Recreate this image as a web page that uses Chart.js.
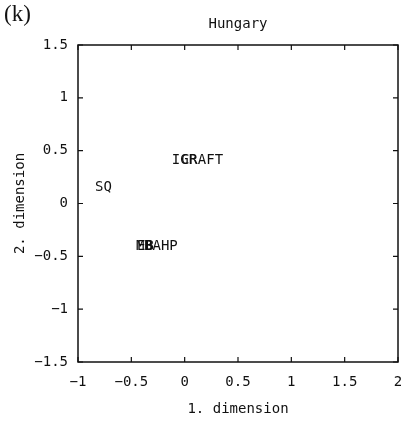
<!DOCTYPE html>
<html>
<head>
<meta charset="utf-8">
<script src="https://cdn.jsdelivr.net/npm/chart.js@4/dist/chart.umd.min.js"></script>
<style>
  html, body { margin: 0; padding: 0; background: #fff; }
  canvas { display: block; }
</style>
</head>
<body>
<canvas id="c" width="405" height="422"></canvas>
<script>
// ---- data ----
const labels = ["IGR", "CRAFT", "SQ", "MB", "EB", "BAHP"];
const xValues = [-0.12, -0.035, -0.84, -0.456, -0.447, -0.381];
const yValues = [0.41, 0.41, 0.156, -0.41, -0.41, -0.41];
const xTicks = [-1, -0.5, 0, 0.5, 1, 1.5, 2];
const yTicks = [-1.5, -1, -0.5, 0, 0.5, 1, 1.5];
const chartTitle = "Hungary";
const panelLabel = "(k)";
const xTitle = "1. dimension";
const yTitle = "2. dimension";

const MONO = "'DejaVu Sans Mono', monospace";
const FS = 14;

const points = xValues.map((x, i) => ({ x: x, y: yValues[i], label: labels[i] }));

const framePlugin = {
  id: 'frame',
  afterDatasetsDraw(chart) {
    const { ctx, chartArea: a, scales } = chart;
    ctx.save();
    ctx.strokeStyle = '#111';
    ctx.lineWidth = 1.5;
    ctx.strokeRect(a.left, a.top, a.right - a.left, a.bottom - a.top);
    ctx.lineWidth = 1.2;
    const tl = 5;
    xTicks.forEach(v => {
      const px = scales.x.getPixelForValue(v);
      ctx.beginPath();
      ctx.moveTo(px, a.bottom); ctx.lineTo(px, a.bottom - tl);
      ctx.moveTo(px, a.top); ctx.lineTo(px, a.top + tl);
      ctx.stroke();
    });
    yTicks.forEach(v => {
      const py = scales.y.getPixelForValue(v);
      ctx.beginPath();
      ctx.moveTo(a.left, py); ctx.lineTo(a.left + tl, py);
      ctx.moveTo(a.right, py); ctx.lineTo(a.right - tl, py);
      ctx.stroke();
    });
    ctx.fillStyle = '#111';
    ctx.font = FS + "px " + MONO;
    ctx.textAlign = 'left';
    ctx.textBaseline = 'middle';
    chart.data.datasets[0].data.forEach(p => {
      ctx.fillText(p.label, scales.x.getPixelForValue(p.x), scales.y.getPixelForValue(p.y));
    });
    ctx.textAlign = 'center';
    ctx.textBaseline = 'alphabetic';
    ctx.fillText(chartTitle, (a.left + a.right) / 2, 28);
    ctx.textAlign = 'left';
    ctx.textBaseline = 'middle';
    ctx.font = "23px 'Liberation Serif', 'DejaVu Serif', serif";
    ctx.fillText(panelLabel, 4, 15);
    ctx.restore();
  }
};

new Chart(document.getElementById('c'), {
  type: 'scatter',
  data: {
    datasets: [{
      data: points,
      pointRadius: 0,
      pointHoverRadius: 0,
      showLine: false
    }]
  },
  options: {
    responsive: false,
    animation: false,
    layout: { padding: { top: 45, right: 7, left: 0, bottom: 0 } },
    plugins: { legend: { display: false }, tooltip: { enabled: false }, title: { display: false } },
    scales: {
      x: {
        type: 'linear',
        min: -1, max: 2,
        afterBuildTicks(s) { s.ticks = xTicks.map(v => ({ value: v })); },
        afterFit(s) { s.height = 60; s.paddingLeft = 0; s.paddingRight = 0; },
        grid: { display: false, drawTicks: false },
        border: { display: false },
        ticks: {
          color: '#111',
          font: { family: MONO, size: FS },
          padding: 12,
          maxRotation: 0,
          callback: v => String(v).replace('-', '\u2212')
        },
        title: {
          display: true, text: xTitle, color: '#111',
          font: { family: MONO, size: FS },
          padding: { top: 4, bottom: 4 }
        }
      },
      y: {
        type: 'linear',
        min: -1.5, max: 1.5,
        afterBuildTicks(s) { s.ticks = yTicks.map(v => ({ value: v })); },
        afterFit(s) { s.width = 78; s.paddingTop = 0; s.paddingBottom = 0; },
        grid: { display: false, drawTicks: false },
        border: { display: false },
        ticks: {
          color: '#111',
          font: { family: MONO, size: FS },
          padding: 10,
          callback: v => String(v).replace('-', '\u2212')
        },
        title: {
          display: true, text: yTitle, color: '#111',
          font: { family: MONO, size: FS },
          padding: { top: 12, bottom: 0 }
        }
      }
    }
  },
  plugins: [framePlugin]
});
</script>
</body>
</html>
